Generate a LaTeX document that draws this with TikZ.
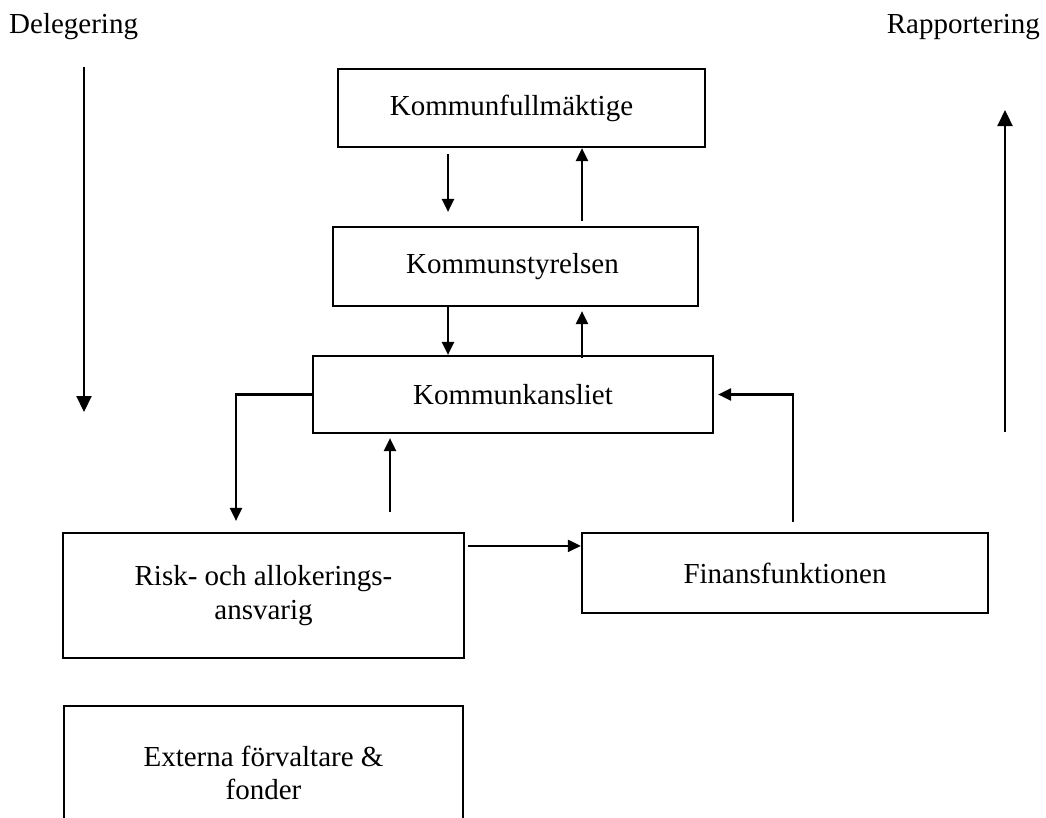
\documentclass[tikz,border=0pt]{standalone}
\usepackage{fontspec}
\setmainfont{Liberation Serif}
\usetikzlibrary{arrows.meta,calc}
\begin{document}
\begin{tikzpicture}[x=1pt,y=-1pt,
  box/.style={draw,line width=2.2pt,rectangle,inner sep=0pt,align=center,font=\fontsize{29}{33.5}\selectfont},
  lbl/.style={inner sep=0pt,font=\fontsize{29}{33.5}\selectfont},
  arr/.style={line width=2.2pt,-{Triangle[length=13pt,width=12pt]}},
  bigarr/.style={line width=2.2pt,-{Triangle[length=16pt,width=15pt]}}]
\useasboundingbox (0,0) rectangle (1046,817);
\clip (0,0) rectangle (1046,817);
% labels
\node[lbl,anchor=base west] (deleg) at (9,33) {Delegering};
\node[lbl,anchor=base east] (rapp) at (1040,33) {Rapportering};
% boxes
\node[box,minimum width=367pt,minimum height=78pt] (kf) at (521.5,108) {Kommunfullmäktige\hspace*{20pt}};
\node[box,minimum width=365pt,minimum height=79pt] (ks) at (515.5,266.5) {Kommunstyrelsen\hspace*{6pt}};
\node[box,minimum width=400pt,minimum height=77pt] (kk) at (513,394.5) {Kommunkansliet};
\node[box,minimum width=401pt,minimum height=125pt] (risk) at (263.5,595.5) {Risk- och allokerings-\\ansvarig};
\node[box,minimum width=406pt,minimum height=80pt] (fin) at (785,573) {Finansfunktionen};
\node[box,minimum width=399pt,minimum height=134pt] (ext) at (263.5,773) {Externa förvaltare \&\\fonder};
% helper coordinates
\coordinate (cL) at (448,0);
\coordinate (cR) at (582,0);
\coordinate (c5) at (236,0);
\coordinate (c6) at (390,0);
\coordinate (c8) at (793,0);
\coordinate (dTop) at (84,67);
\coordinate (dBot) at (84,412);
\coordinate (rBot) at (1005,432);
\coordinate (rTop) at (1005,110);
% connectors
\draw[arr] ($(kf.south -| cL)+(0,6)$) -- ($(ks.north -| cL)+(0,-14)$);
\draw[arr] ($(ks.north -| cR)+(0,-5)$) -- (kf.south -| cR);
\draw[arr] (ks.south -| cL) -- (kk.north -| cL);
\draw[arr] ($(kk.north -| cR)+(0,3)$) -- ($(ks.south -| cR)+(0,4)$);
\draw[arr] (kk.west) -| ($(risk.north -| c5)+(0,-11)$);
\draw[arr] ($(risk.north -| c6)+(0,-20)$) -- ($(kk.south -| c6)+(0,4)$);
\draw[arr] ($(risk.north east)+(3,14)$) -- ($(fin.north west)+(0,14)$);
\draw[arr] ($(fin.north -| c8)+(0,-10)$) |- ($(kk.east)+(4,0)$);
\draw[bigarr] (dTop) -- (dBot);
\draw[bigarr] (rBot) -- (rTop);
\end{tikzpicture}
\end{document}
